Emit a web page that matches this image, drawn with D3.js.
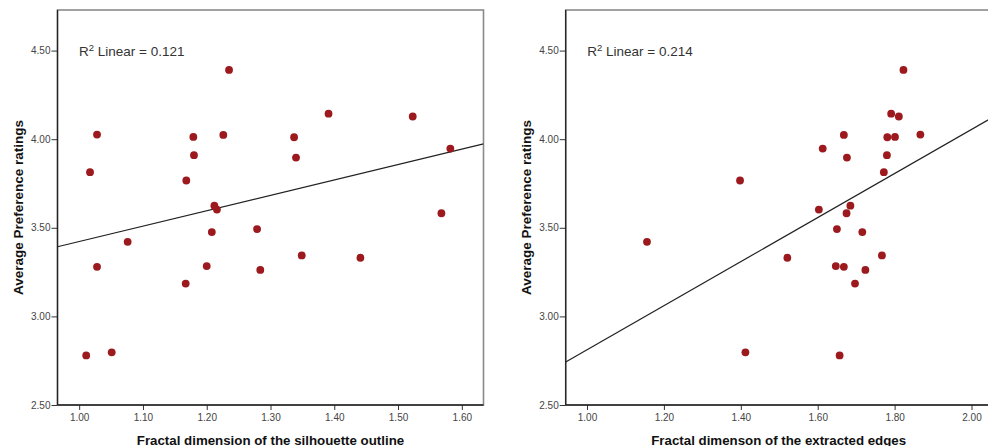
<!DOCTYPE html>
<html>
<head>
<meta charset="utf-8">
<script src="https://cdn.jsdelivr.net/npm/d3@7"></script>
<style>
    body { margin: 0; background: #fff; }
    svg { display: block; font-family: "Liberation Sans", Arial, sans-serif; }
</style>
</head>
<body>
<div id="chart"></div>
<script>
// Average preference ratings (shared by both panels)
const ratings = [4.391, 4.144, 4.128, 4.026, 4.024, 4.013, 4.011, 3.947, 3.910, 3.896,
    3.814, 3.767, 3.625, 3.603, 3.582, 3.493, 3.476, 3.421, 3.344, 3.331,
    3.284, 3.280, 3.262, 3.185, 2.797, 2.780];

// Fractal dimension of the silhouette outline
const silhouette = [1.235, 1.391, 1.523, 1.028, 1.226, 1.179, 1.337, 1.582, 1.180, 1.340,
    1.017, 1.168, 1.212, 1.216, 1.568, 1.279, 1.208, 1.076, 1.349, 1.441,
    1.200, 1.028, 1.284, 1.167, 1.051, 1.011];

// Fractal dimension of the extracted edges
const edges = [1.823, 1.791, 1.811, 1.867, 1.668, 1.801, 1.781, 1.613, 1.780, 1.676,
    1.772, 1.398, 1.685, 1.603, 1.675, 1.650, 1.716, 1.156, 1.767, 1.521,
    1.647, 1.668, 1.724, 1.697, 1.412, 1.657];

// Linear fit [intercept, slope] and R squared
const fitSilhouette = [2.5535, 0.869];
const fitEdges = [1.568, 1.2436];
const r2Values = ["0.121", "0.214"];

const yTicks = [2.50, 3.00, 3.50, 4.00, 4.50];
const xTicksSilhouette = [1.00, 1.10, 1.20, 1.30, 1.40, 1.50, 1.60];
const xTicksEdges = [1.00, 1.20, 1.40, 1.60, 1.80, 2.00];

const xTitles = ["Fractal dimension of the silhouette outline", "Fractal dimenson of the extracted edges"];
const yTitle = "Average Preference ratings";

const width = 988, height = 446;
const svg = d3.select("#chart").append("svg")
    .attr("width", width)
    .attr("height", height);

const plotTop = 10, plotBottom = 405, plotWidth = 426;
const yScale = d3.scaleLinear().domain([2.5, 4.729]).range([plotBottom, plotTop]);

// Draw one scatter panel
function drawPanel(left, xDomain, xs, fit, r2, xTicks, xTitle) {
    const right = left + plotWidth;
    const xScale = d3.scaleLinear().domain(xDomain).range([left, right]);
    const g = svg.append("g");

    const clipId = "clip" + Math.round(left);
    svg.append("clipPath").attr("id", clipId)
        .append("rect")
        .attr("x", left).attr("y", plotTop)
        .attr("width", plotWidth).attr("height", plotBottom - plotTop);

    // Frame (top/right in grey)
    g.append("rect")
        .attr("x", left).attr("y", plotTop)
        .attr("width", plotWidth).attr("height", plotBottom - plotTop)
        .attr("fill", "none")
        .attr("stroke", "#8a8a8a")
        .attr("stroke-width", 1.6);

    // y axis
    const yAxis = g.append("g")
        .attr("transform", `translate(${left},0)`)
        .call(d3.axisLeft(yScale).tickValues(yTicks).tickFormat(d3.format(".2f")).tickSize(6).tickPadding(1));
    yAxis.select(".domain").remove();
    yAxis.selectAll("line").attr("stroke", "#333");
    yAxis.selectAll("text").attr("font-size", 10).attr("fill", "#444")
        .attr("font-family", "'Liberation Sans', Arial, sans-serif");

    // x axis
    const xAxis = g.append("g")
        .attr("transform", `translate(0,${plotBottom})`)
        .call(d3.axisBottom(xScale).tickValues(xTicks).tickFormat(d3.format(".2f")).tickSize(5).tickPadding(4));
    xAxis.select(".domain").remove();
    xAxis.selectAll("line").attr("stroke", "#333");
    xAxis.selectAll("text").attr("font-size", 10).attr("fill", "#444")
        .attr("font-family", "'Liberation Sans', Arial, sans-serif");

    // axis lines
    g.append("line")
        .attr("x1", left).attr("x2", left)
        .attr("y1", plotTop).attr("y2", plotBottom)
        .attr("stroke", "#222").attr("stroke-width", 1.3);
    g.append("line")
        .attr("x1", left).attr("x2", right)
        .attr("y1", plotBottom).attr("y2", plotBottom)
        .attr("stroke", "#222").attr("stroke-width", 1.3);

    // fit line
    const lineData = xDomain.map(x => [x, fit[0] + fit[1] * x]);
    g.append("path")
        .datum(lineData)
        .attr("clip-path", `url(#${clipId})`)
        .attr("d", d3.line().x(d => xScale(d[0])).y(d => yScale(d[1])))
        .attr("fill", "none")
        .attr("stroke", "#222")
        .attr("stroke-width", 1.2);

    // points
    g.selectAll(".dot")
        .data(xs.map((x, i) => [x, ratings[i]]))
        .enter()
        .append("circle")
        .attr("class", "dot")
        .attr("cx", d => xScale(d[0]))
        .attr("cy", d => yScale(d[1]))
        .attr("r", 3.9)
        .attr("fill", "#9c1a1e");

    // R squared label
    const label = g.append("text")
        .attr("x", left + 21.5)
        .attr("y", 55.5)
        .attr("font-size", 13.5)
        .attr("fill", "#333");
    label.append("tspan").text("R");
    label.append("tspan").attr("font-size", 9.5).attr("dy", -5).text("2");
    label.append("tspan").attr("dy", 5).text(" Linear = " + r2);

    // axis titles
    g.append("text")
        .attr("x", (left + right) / 2)
        .attr("y", 444.5)
        .attr("text-anchor", "middle")
        .attr("font-size", 13.3)
        .attr("font-weight", "bold")
        .attr("fill", "#111")
        .text(xTitle);

    g.append("text")
        .attr("transform", `translate(${left - 35},${(plotTop + plotBottom) / 2}) rotate(-90)`)
        .attr("text-anchor", "middle")
        .attr("font-size", 13.5)
        .attr("font-weight", "bold")
        .attr("fill", "#111")
        .text(yTitle);
}

drawPanel(57.5, [0.966, 1.634], silhouette, fitSilhouette, r2Values[0], xTicksSilhouette, xTitles[0]);
drawPanel(565.7, [0.9446, 2.0525], edges, fitEdges, r2Values[1], xTicksEdges, xTitles[1]);
</script>
</body>
</html>
